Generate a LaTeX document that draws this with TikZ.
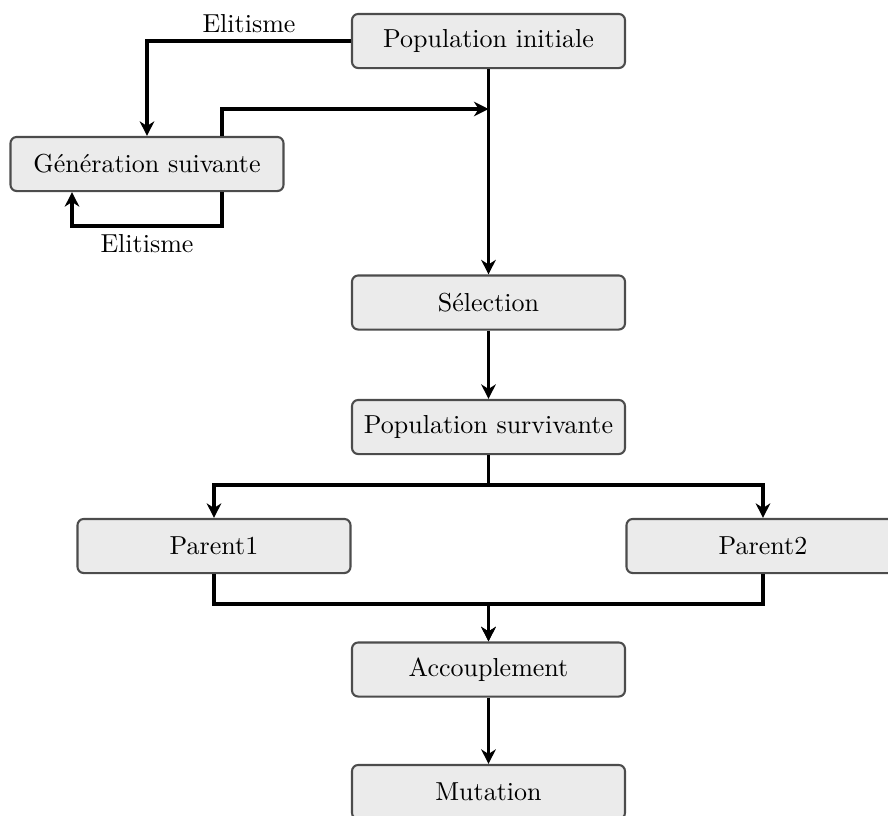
\documentclass[tikz,border=0pt]{standalone}
\usepackage{fontspec}
\usetikzlibrary{arrows.meta,positioning,calc}
\begin{document}
\begin{tikzpicture}[x=0.3846pt,y=-0.3846pt,
  box/.style={draw=black!70,line width=0.8pt,fill=black!8,rounded corners=2.4pt,
    minimum width=105pt,minimum height=20.8pt,inner xsep=4.6pt,
    font=\fontsize{10}{12}\selectfont},
  lbl/.style={font=\fontsize{10}{12}\selectfont,inner sep=1.5pt},
  conn/.style={line width=1.25pt,-{Stealth[length=5.6pt,width=5.6pt,inset=1.8pt]}}]
\useasboundingbox (0,0) rectangle (888,816);
\node[box] (pi) at (488.5,41) {Population initiale};
\node[box] (gen) at (147,164) {Génération suivante};
\node[box] (sel) at (488.5,302.5) {Sélection};
\node[box] (ps) at (488.5,427) {Population survivante};
\node[box] (p1) at (214,546) {Parent1};
\node[box] (p2) at (763,546) {Parent2};
\node[box] (acc) at (488.5,669.5) {Accouplement};
\node[box] (mut) at (488.5,792) {Mutation};
\coordinate (j1) at (pi.south |- 0,109);
\draw[conn] (pi.west) -| node[lbl,pos=0.25,above=1pt] {Elitisme} (gen.north);
\draw[conn] (pi.south) -- (sel.north);
\draw[conn] ($(gen.north)+(75,0)$) |- (j1);
\draw[conn] ($(gen.south)+(75,0)$) -- ++(0,34) -| node[lbl,pos=0.25,below=1pt] {Elitisme} ($(gen.south)+(-75,0)$);
\draw[conn] (sel.south) -- (ps.north);
\draw[conn] (ps.south) -- ++(0,30) -| (p1.north);
\draw[conn] (ps.south) -- ++(0,30) -| (p2.north);
\draw[conn] (p1.south) -- ++(0,30) -| (acc.north);
\draw[conn] (p2.south) -- ++(0,30) -| (acc.north);
\draw[conn] (acc.south) -- (mut.north);
\end{tikzpicture}
\end{document}
